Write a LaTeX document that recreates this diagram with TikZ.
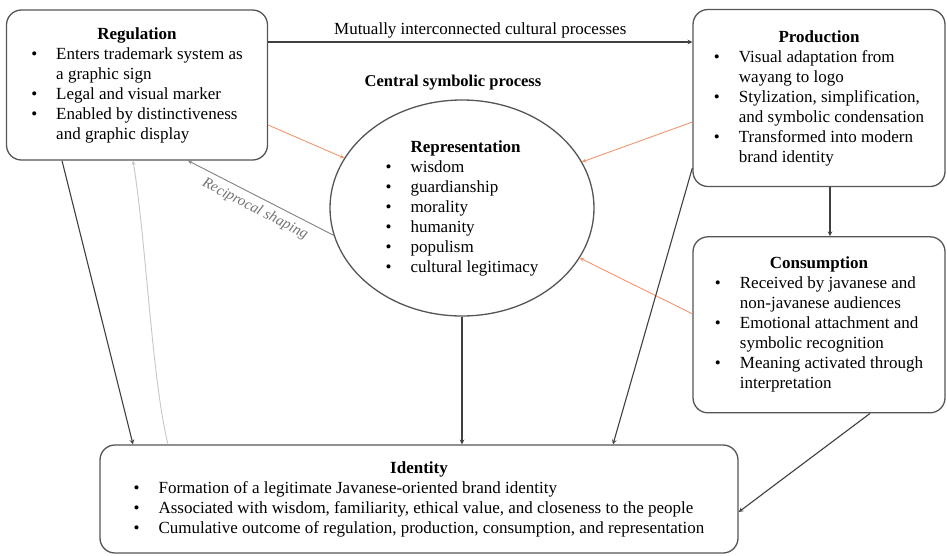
\documentclass[tikz,border=0pt]{standalone}
\usepackage{fontspec}
\setmainfont{Liberation Serif}
\usepackage{tikz}
\usetikzlibrary{shapes.geometric, arrows, positioning}
\definecolor{edgegray}{RGB}{85,85,85}
\definecolor{linkorange}{RGB}{240,150,110}
\tikzstyle{process} = [rectangle, rounded corners=15pt, draw=edgegray, line width=1.3pt, inner sep=0pt, text centered, font=\fontsize{17}{20}\selectfont]
\tikzstyle{central} = [ellipse, draw=edgegray, line width=1.3pt, inner sep=0pt, minimum width=264pt, minimum height=216pt, font=\fontsize{17}{20}\selectfont]
\tikzstyle{arrow} = [line width=1.1pt, draw=black!75, ->, >=stealth]
\tikzstyle{warmArrow} = [line width=0.9pt, draw=linkorange, ->, >=stealth]
\tikzstyle{grayArrow} = [line width=0.9pt, draw=black!50, ->, >=stealth]
\tikzstyle{faintArrow} = [line width=0.9pt, draw=black!22, ->, >=stealth]

\begin{document}
\begin{tikzpicture}[x=1pt, y=-1pt]
    \useasboundingbox (0,0) rectangle (947,555);
    \node (reg) [process, minimum width=261pt, minimum height=150pt] at (137,85) {%
        \begin{tabular}{@{}l@{\hspace{19pt}}l@{}}
            \multicolumn{2}{c}{\textbf{Regulation}}\\
            \textbullet & Enters trademark system as\\
                        & a graphic sign\\
            \textbullet & Legal and visual marker\\
            \textbullet & Enabled by distinctiveness\\
                        & and graphic display
        \end{tabular}};
    \node (prod) [process, minimum width=252pt, minimum height=177pt] at (819,98) {%
        \begin{tabular}{@{}l@{\hspace{19pt}}l@{}}
            \multicolumn{2}{c}{\textbf{Production}}\\
            \textbullet & Visual adaptation from\\
                        & wayang to logo\\
            \textbullet & Stylization, simplification,\\
                        & and symbolic condensation\\
            \textbullet & Transformed into modern\\
                        & brand identity
        \end{tabular}};
    \node (cons) [process, minimum width=252pt, minimum height=176pt, below=49pt of prod] {%
        \begin{tabular}{@{}l@{\hspace{19pt}}l@{}}
            \multicolumn{2}{c}{\textbf{Consumption}}\\
            \textbullet & Received by javanese and\\
                        & non-javanese audiences\\
            \textbullet & Emotional attachment and\\
                        & symbolic recognition\\
            \textbullet & Meaning activated through\\
                        & interpretation
        \end{tabular}};
    \node (ident) [process, minimum width=638pt, minimum height=108pt] at (419,499) {%
        \begin{tabular}{@{}l@{\hspace{19pt}}l@{}}
            \multicolumn{2}{c}{\textbf{Identity}}\\
            \textbullet & Formation of a legitimate Javanese-oriented brand identity\\
            \textbullet & Associated with wisdom, familiarity, ethical value, and closeness to the people\\
            \textbullet & Cumulative outcome of regulation, production, consumption, and representation
        \end{tabular}};
    \node (rep) [central] at (462,208) {%
        \begin{tabular}{@{}l@{\hspace{19pt}}l@{}}
                        & \textbf{Representation}\\
            \textbullet & wisdom\\
            \textbullet & guardianship\\
            \textbullet & morality\\
            \textbullet & humanity\\
            \textbullet & populism\\
            \textbullet & cultural legitimacy
        \end{tabular}};
    \node (csp) [above=6pt of rep, xshift=-9pt, font=\fontsize{16.5}{18}\selectfont\bfseries] {Central symbolic process};

    \draw [arrow] ([yshift=43pt]reg.east) -- node [above, font=\fontsize{17}{19}\selectfont] {Mutually interconnected cultural processes} ([yshift=56pt]prod.west);
    \draw [warmArrow] ([yshift=-40pt]reg.east) -- (rep.157);
    \draw [warmArrow] ([yshift=-24pt]prod.west) -- (rep.21);
    \draw [warmArrow] ([yshift=11pt]cons.west) -- (rep.-23);
    \draw [grayArrow] (rep.192) -- node [below=2pt, sloped, text=black!55, font=\fontsize{15}{17}\selectfont\itshape] {Reciprocal shaping} ([xshift=51pt]reg.south);
    \draw [faintArrow] ([xshift=-251pt]ident.north) .. controls (152,380) and (146,240) .. ([xshift=-4pt]reg.south);
    \draw [arrow] ([xshift=-75pt]reg.south) -- ([xshift=-286pt]ident.north);
    \draw [arrow] (rep.south) -- (rep.south |- ident.north);
    \draw [arrow] ([yshift=-70pt]prod.west) -- ([xshift=194pt]ident.north);
    \draw [arrow] ([xshift=11pt]prod.south) -- ([xshift=11pt]cons.north);
    \draw [arrow] ([xshift=51pt]cons.south) -- ([yshift=-13pt]ident.east);
\end{tikzpicture}
\end{document}
